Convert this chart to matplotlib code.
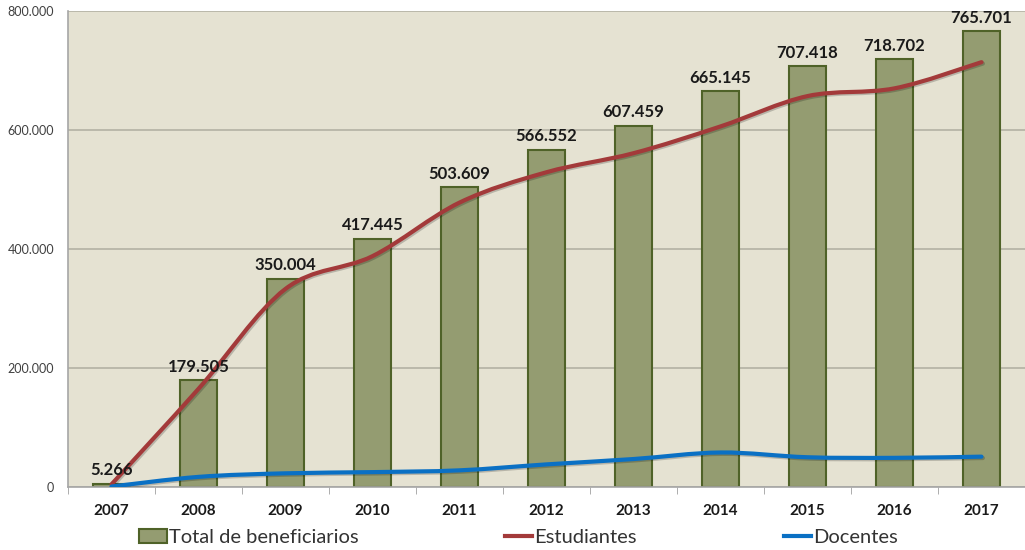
import numpy as np
import matplotlib
matplotlib.use("Agg")
import matplotlib.pyplot as plt
import matplotlib.patheffects as pe
from matplotlib.path import Path
from matplotlib.patches import PathPatch, Patch
from matplotlib.lines import Line2D
from matplotlib.ticker import FuncFormatter, FixedLocator

plt.rcParams['font.family'] = ['Lato', 'DejaVu Sans']

# Data
years = ['2007', '2008', '2009', '2010', '2011', '2012', '2013', '2014', '2015', '2016', '2017']
total = [5266, 179505, 350004, 417445, 503609, 566552, 607459, 665145, 707418, 718702, 765701]
estudiantes = [4500, 165000, 333000, 388000, 478000, 529000, 561000, 606000, 657000, 670000, 714000]
docentes = [800, 17000, 23000, 25000, 28000, 38000, 47000, 58000, 50000, 49000, 51000]

bg = '#E5E2D2'
bar_fill = '#949C71'
bar_edge = '#4F6228'
red = '#A33A3A'
blue = '#0A70C4'


def smooth_path(xs, ys):
    # Catmull-Rom style smoothing drawn as cubic Bezier segments (like Excel's smoothed line)
    pts = np.column_stack([xs, ys]).astype(float)
    verts = [pts[0]]
    codes = [Path.MOVETO]
    n = len(pts)
    for i in range(n - 1):
        p0 = pts[max(i - 1, 0)]
        p1 = pts[i]
        p2 = pts[i + 1]
        p3 = pts[min(i + 2, n - 1)]
        c1 = p1 + (p2 - p0) / 6.0
        c2 = p2 - (p3 - p1) / 6.0
        verts += [c1, c2, p2]
        codes += [Path.CURVE4] * 3
    return Path(verts, codes)


fig = plt.figure(figsize=(10.25, 5.5), dpi=100)
ax = fig.add_axes([68 / 1025, 1 - 487 / 550, 1 - 68 / 1025, (487 - 11) / 550])
ax.set_facecolor(bg)

x = np.arange(len(years))
ax.bar(x, total, width=0.42, color=bar_fill, edgecolor=bar_edge, linewidth=1.5, zorder=2)

shadow = [pe.SimpleLineShadow(offset=(1, -1), alpha=0.2), pe.Normal()]
for vals, col in [(estudiantes, red), (docentes, blue)]:
    patch = PathPatch(smooth_path(x, vals), facecolor='none', edgecolor=col,
                      linewidth=3, capstyle='round', joinstyle='round', zorder=3)
    patch.set_path_effects(shadow)
    ax.add_patch(patch)

for xi, v in zip(x, total):
    ax.annotate(f'{v:,}'.replace(',', '.'), (xi, v), xytext=(0, 4),
                textcoords='offset points', ha='center', va='bottom',
                fontsize=12, fontweight='bold', color='#1a1a1a', zorder=4)

ax.set_xlim(-0.5, len(years) - 0.5)
ax.set_ylim(0, 800000)
ax.set_yticks(np.arange(0, 800001, 200000))
ax.yaxis.set_major_formatter(FuncFormatter(lambda v, p: f'{int(v):,}'.replace(',', '.')))
ax.grid(axis='y', color='#B3B1A4', linewidth=1.2, zorder=1)
ax.set_axisbelow(True)

ax.set_xticks(x)
ax.set_xticklabels(years, fontsize=11, fontweight='bold', color='#1a1a1a')
ax.xaxis.set_minor_locator(FixedLocator(np.arange(-0.5, len(years), 1.0)))
ax.tick_params(axis='x', which='major', length=0, pad=12)
ax.tick_params(axis='x', which='minor', length=5, color='#A0A0A0', direction='out')
ax.tick_params(axis='y', length=0, pad=10, labelsize=9, labelcolor='#404040')

for s in ['top', 'right']:
    ax.spines[s].set_visible(False)
ax.spines['left'].set_color('#A6A6A6')
ax.spines['bottom'].set_color('#A6A6A6')
ax.spines['left'].set_linewidth(1.2)
ax.spines['bottom'].set_linewidth(1.2)

handles = [
    Patch(facecolor=bar_fill, edgecolor=bar_edge, linewidth=1.5),
    Line2D([], [], color=red, linewidth=3),
    Line2D([], [], color=blue, linewidth=3),
]
labels = ['Total de beneficiarios', 'Estudiantes', 'Docentes']
fig.legend(handles, labels, loc='center', bbox_to_anchor=(0.506, 0.022), ncol=3,
           frameon=False, fontsize=14.5, handlelength=1.35, handletextpad=0.1,
           columnspacing=7.3, labelcolor='#333333')

fig.savefig('out.png', dpi=100, facecolor='white')
